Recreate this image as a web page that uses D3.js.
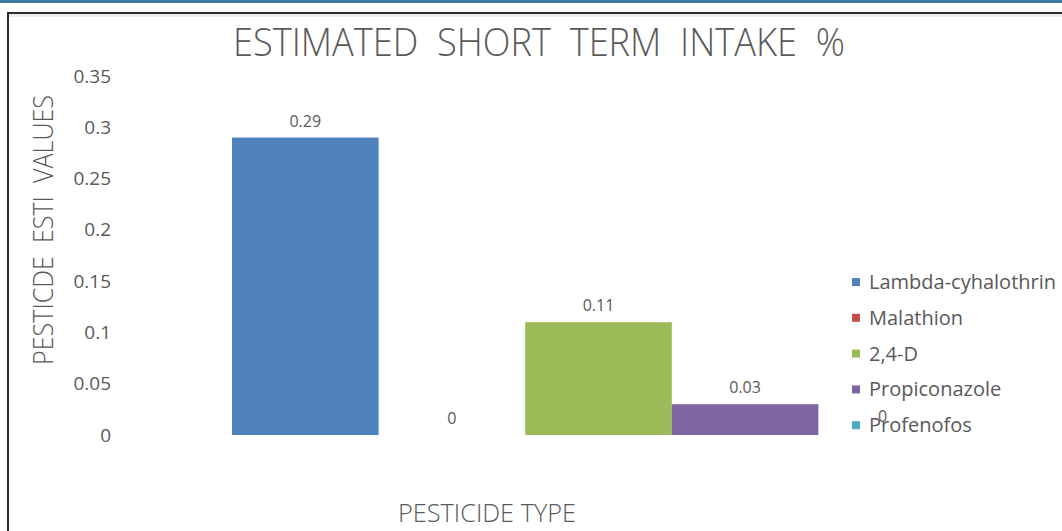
<!DOCTYPE html>
<html>
<head>
<meta charset="utf-8">
<script src="https://cdn.jsdelivr.net/npm/d3@7/dist/d3.min.js"></script>
<style>
  html, body { margin: 0; padding: 0; background: #fff; }
  svg { display: block; }
  text { font-family: "Open Sans", "Noto Sans", sans-serif; fill: #595959; }
</style>
</head>
<body>
<svg id="chart" width="1062" height="531"></svg>
<script>
// Pesticide series and their estimated short term intake values
const pesticides = ["Lambda-cyhalothrin", "Malathion", "2,4-D", "Propiconazole", "Profenofos"];
const intakeValues = [0.29, 0, 0.11, 0.03, 0];
const seriesColors = ["#4f81bd", "#c0504d", "#9bbb59", "#8064a2", "#4bacc6"];
const yTickValues = [0, 0.05, 0.1, 0.15, 0.2, 0.25, 0.3, 0.35];
const yTickLabels = ["0", "0.05", "0.1", "0.15", "0.2", "0.25", "0.3", "0.35"];

const chartTitle = "ESTIMATED  SHORT  TERM  INTAKE  %";
const yTitle = "PESTICDE  ESTI  VALUES";
const xTitle = "PESTICIDE TYPE";

const svg = d3.select("#chart");

// Page band and chart frame
svg.append("rect").attr("x", 0).attr("y", 0).attr("width", 1062).attr("height", 3).attr("fill", "#3c7aa3");
svg.append("rect").attr("x", 9).attr("y", 14).attr("width", 1053).attr("height", 3).attr("fill", "#ececec");
svg.append("line").attr("x1", 8).attr("x2", 1062).attr("y1", 13).attr("y2", 13)
  .attr("stroke", "#2a2a2a").attr("stroke-width", 2);
svg.append("line").attr("x1", 8).attr("x2", 8).attr("y1", 12).attr("y2", 531)
  .attr("stroke", "#2a2a2a").attr("stroke-width", 2);

// Scales
const x = d3.scaleBand().domain(pesticides).range([232, 965]).padding(0);
const y = d3.scaleLinear().domain([0, 0.35]).range([435, 76]);

// Value axis labels (no axis line, no gridlines)
const yAxis = d3.axisLeft(y)
  .tickValues(yTickValues)
  .tickFormat((d, i) => yTickLabels[i])
  .tickSize(0)
  .tickPadding(0);
const yAxisG = svg.append("g").attr("transform", "translate(111,0)").call(yAxis);
yAxisG.select(".domain").remove();
yAxisG.selectAll("text")
  .attr("font-family", "'Open Sans', sans-serif")
  .attr("font-size", 19)
  .attr("fill", "#595959");

// Bars
svg.append("g").selectAll("rect")
  .data(pesticides)
  .join("rect")
  .attr("x", d => x(d))
  .attr("width", x.bandwidth())
  .attr("y", (d, i) => y(intakeValues[i]))
  .attr("height", (d, i) => y(0) - y(intakeValues[i]))
  .attr("fill", (d, i) => seriesColors[i]);

// Data labels
svg.append("g").selectAll("text")
  .data(pesticides)
  .join("text")
  .attr("x", d => x(d) + x.bandwidth() / 2 - (d === "Profenofos" ? 9 : 0))
  .attr("y", (d, i) => y(intakeValues[i]) - 11 - (d === "Profenofos" ? 2 : 0))
  .attr("text-anchor", "middle")
  .attr("font-size", 16)
  .attr("fill", "#404040")
  .text((d, i) => String(intakeValues[i]));

// Chart title
svg.append("text")
  .attr("x", 539).attr("y", 56)
  .attr("text-anchor", "middle")
  .attr("font-size", 38)
  .attr("font-weight", 300)
  .attr("textLength", 612)
  .attr("lengthAdjust", "spacingAndGlyphs")
  .style("white-space", "pre")
  .attr("fill", "#595959")
  .text(chartTitle);

// Axis titles
svg.append("text")
  .attr("transform", "translate(53,230) rotate(-90)")
  .attr("text-anchor", "middle")
  .attr("font-size", 27)
  .attr("font-weight", 300)
  .attr("textLength", 270)
  .attr("lengthAdjust", "spacingAndGlyphs")
  .style("white-space", "pre")
  .text(yTitle);

svg.append("text")
  .attr("x", 487).attr("y", 522)
  .attr("text-anchor", "middle")
  .attr("font-size", 26)
  .attr("font-weight", 300)
  .attr("textLength", 178)
  .attr("lengthAdjust", "spacingAndGlyphs")
  .text(xTitle);

// Legend
const legend = svg.append("g").attr("transform", "translate(852,278)");
const items = legend.selectAll("g")
  .data(pesticides)
  .join("g")
  .attr("transform", (d, i) => `translate(0,${i * 35.8})`);
items.append("rect")
  .attr("width", 8).attr("height", 8)
  .attr("fill", (d, i) => seriesColors[i]);
items.append("text")
  .attr("x", 17).attr("y", 11)
  .attr("font-size", 20)
  .attr("fill", "#595959")
  .text(d => d);
</script>
</body>
</html>
